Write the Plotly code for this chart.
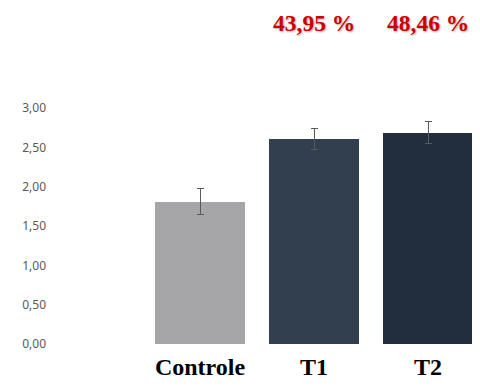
import plotly.graph_objects as go

categories = ["Controle", "T1", "T2"]
values = [1.81, 2.605, 2.687]
errors = [0.165, 0.13, 0.14]
colors = ["#A6A6A8", "#323F4F", "#222E3D"]
percent_labels = ["", "43,95 %", "48,46 %"]
y_ticks = [0, 0.5, 1.0, 1.5, 2.0, 2.5, 3.0]
y_tick_text = ["0,00", "0,50", "1,00", "1,50", "2,00", "2,50", "3,00"]

OFF = 8  # page body margin
W, H = 480 - OFF, 388 - OFF
L, R, T, B = 39, 0, 60, 44
cat_px = 114.0
x0_px = 200.0 - OFF
x_lo = (L - x0_px) / cat_px
x_hi = (W - R - x0_px) / cat_px
plot_h = H - T - B
y_hi = plot_h / 78.67

fig = go.Figure()
fig.add_trace(go.Bar(
    x=categories, y=values,
    marker=dict(color=colors, line=dict(width=0)),
    width=90 / cat_px,
    error_y=dict(type="data", array=errors, visible=True,
                 color="#595959", thickness=1, width=3.5),
))

for cat, lab in zip(categories, percent_labels):
    if lab:
        fig.add_annotation(
            x=cat, y=1, xref="x", yref="paper",
            yshift=45, yanchor="middle",
            text="<b>" + lab + "</b>", showarrow=False,
            font=dict(family="Liberation Serif", size=23.5, color="#CC0000",
                      shadow="1px 1px 2px #AAAAAA"),
        )

fig.update_layout(
    width=W, height=H,
    margin=dict(l=L, r=R, t=T, b=B, pad=0, autoexpand=False),
    plot_bgcolor="white", paper_bgcolor="white",
    showlegend=False,
    bargap=0,
    xaxis=dict(range=[x_lo, x_hi], showgrid=False, showline=False,
               zeroline=False, ticks="", ticklabelstandoff=6,
               tickfont=dict(family="Liberation Serif", size=24, color="black",
                             weight="bold")),
    yaxis=dict(range=[0, y_hi], showgrid=False, showline=False, zeroline=False,
               tickvals=y_ticks, ticktext=y_tick_text, ticks="",
               tickfont=dict(family="Noto Sans", size=12, color="#595959")),
)

fig.write_html("out.html")
